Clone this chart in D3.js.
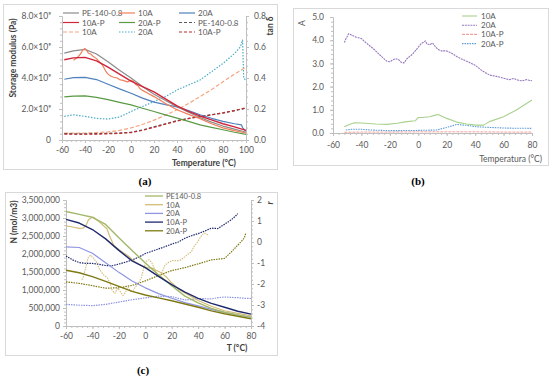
<!DOCTYPE html>
<html>
<head>
<meta charset="utf-8">
<script src="https://cdn.jsdelivr.net/npm/d3@7"></script>
<style>
  body { margin: 0; background: #fff; }
  text { font-family: Lato, "Liberation Sans", sans-serif; }
</style>
</head>
<body>
<svg id="fig" width="550" height="378"></svg>
<script>
// ---------- panel (a): storage modulus (x10^9 Pa) and tan delta ----------
const tempA = [-58, -50, -40, -30, -20, -10, 0, 10, 20, 30, 40, 50, 60, 70, 80, 90, 100];
const modPE = [5.6, 5.75, 5.85, 5.55, 5.05, 4.5, 4.0, 3.45, 2.95, 2.55, 2.15, 1.8, 1.45, 1.15, 0.9, 0.7, 0.5];
const mod10AP = [5.18, 5.3, 5.33, 5.1, 4.7, 4.25, 3.8, 3.45, 3.1, 2.65, 2.2, 1.85, 1.55, 1.3, 1.05, 0.85, 0.62];
const mod20AP = [2.78, 2.83, 2.85, 2.75, 2.6, 2.43, 2.27, 2.05, 1.84, 1.62, 1.41, 1.2, 0.98, 0.82, 0.66, 0.5, 0.36];
const tempA10A = [-50, -47, -45, -43, -42, -40, -38, -37, -35, -33, -30, -27, -25, -22, -20, -17, -15, -12, -10, -7, -5, -3, 0, 2, 4, 6, 8, 10, 15, 20, 30, 40, 50, 60, 70, 80, 90, 100];
const mod10A = [5.15, 5.3, 5.45, 5.65, 5.8, 5.9, 5.72, 5.6, 5.55, 5.4, 5.25, 5.0, 4.85, 4.45, 4.25, 4.1, 4.05, 4.0, 3.9, 3.85, 3.8, 3.75, 3.85, 3.8, 3.6, 3.5, 3.3, 3.2, 3.0, 2.8, 2.35, 1.95, 1.65, 1.38, 1.05, 0.78, 0.6, 0.45];
const tempA20A = [-58, -50, -40, -30, -20, -10, 0, 10, 20, 30, 40, 50, 60, 70, 80, 90, 96, 97, 100];
const mod20A = [3.92, 4.02, 4.04, 3.9, 3.6, 3.3, 3.02, 2.7, 2.44, 2.28, 2.14, 1.9, 1.63, 1.4, 1.2, 1.05, 0.98, 0.8, 0.55];
const tanPE = [0.042, 0.04, 0.04, 0.041, 0.043, 0.045, 0.05, 0.065, 0.085, 0.105, 0.125, 0.14, 0.152, 0.163, 0.174, 0.19, 0.205];
const tan10AP = [0.038, 0.037, 0.037, 0.038, 0.04, 0.043, 0.048, 0.062, 0.082, 0.102, 0.122, 0.138, 0.15, 0.162, 0.175, 0.19, 0.208];
const tan10A = [0.045, 0.045, 0.045, 0.048, 0.052, 0.062, 0.078, 0.1, 0.128, 0.16, 0.195, 0.235, 0.28, 0.325, 0.376, 0.425, 0.47];
const tempATan20A = [-58, -50, -40, -30, -20, -10, 0, 10, 20, 30, 40, 50, 60, 70, 80, 90, 95, 97, 98, 100];
const tan20A = [0.152, 0.163, 0.152, 0.14, 0.135, 0.148, 0.184, 0.216, 0.248, 0.28, 0.323, 0.355, 0.387, 0.44, 0.494, 0.558, 0.6, 0.645, 0.4, 0.385];
const xTicksA = [-60, -40, -20, 0, 20, 40, 60, 80, 100];
const modTicksA = [0, 2, 4, 6, 8];
const tanTicksA = [0, 0.2, 0.4, 0.6, 0.8];
const legendA = ["PE-140-0.8", "10A", "20A", "10A-P", "20A-P", "PE-140-0.8", "10A", "20A", "10A-P"];

// ---------- panel (b): A ----------
const tempB20A = [-52, -51, -49, -47, -44, -40, -37, -34, -31, -28, -25, -22, -20, -18, -16, -14, -12, -10, -8, -6, -4, -2, 0, 2, 4, 5, 6, 8, 10, 12, 14, 16, 20, 24, 27, 30, 35, 40, 45, 50, 55, 60, 64, 67, 70, 73, 76, 78, 80];
const a20A = [3.9, 4.05, 4.28, 4.22, 4.14, 4.07, 3.9, 3.75, 3.6, 3.42, 3.25, 3.09, 3.07, 3.15, 3.2, 3.17, 3.05, 3.02, 3.2, 3.3, 3.4, 3.55, 3.7, 3.85, 3.92, 3.97, 3.85, 3.8, 3.88, 3.72, 3.6, 3.54, 3.54, 3.42, 3.3, 3.2, 3.07, 2.92, 2.68, 2.5, 2.44, 2.36, 2.3, 2.35, 2.28, 2.25, 2.3, 2.27, 2.25];
const tempB10A = [-52, -48, -45, -40, -30, -22, -15, -8, -2, 0, 3, 8, 12, 14, 20, 27, 34, 41, 46, 50, 60, 69, 80];
const a10A = [0.27, 0.38, 0.44, 0.43, 0.39, 0.37, 0.42, 0.49, 0.53, 0.67, 0.67, 0.7, 0.77, 0.8, 0.63, 0.47, 0.39, 0.34, 0.34, 0.49, 0.7, 0.99, 1.42];
const tempB20AP = [-51, -47, -40, -34, -20, -1, 13, 20, 27, 34, 41, 50, 62, 80];
const a20AP = [0.13, 0.16, 0.16, 0.13, 0.1, 0.11, 0.13, 0.24, 0.37, 0.33, 0.27, 0.24, 0.21, 0.2];
const tempB10AP = [-52, -40, -20, 0, 20, 40, 60, 80];
const a10AP = [0.03, 0.04, 0.04, 0.05, 0.05, 0.05, 0.04, 0.04];
const xTicksB = [-60, -40, -20, 0, 20, 40, 60, 80];
const yTicksB = [0, 1, 2, 3, 4, 5];
const legendB = ["10A", "20A", "10A-P", "20A-P"];

// ---------- panel (c): N (mol/m3) and r ----------
const tempC = [-60, -50, -40, -30, -20, -10, 0, 10, 20, 30, 40, 50, 60, 70, 80];
const nPE = [3180000, 3100000, 3020000, 2820000, 2450000, 2100000, 1750000, 1420000, 1120000, 830000, 640000, 490000, 380000, 310000, 240000];
const n10AP = [2960000, 2860000, 2680000, 2420000, 2100000, 1810000, 1620000, 1380000, 1150000, 940000, 770000, 630000, 520000, 410000, 330000];
const n20A = [2200000, 2180000, 2020000, 1760000, 1490000, 1250000, 1060000, 900000, 770000, 650000, 560000, 460000, 380000, 300000, 240000];
const n20AP = [1550000, 1480000, 1370000, 1240000, 1100000, 960000, 860000, 780000, 700000, 610000, 520000, 420000, 340000, 270000, 200000];
const tempC10A = [-60, -55, -50, -47, -45, -43, -41, -39, -37, -35, -32, -29, -27, -24, -22, -19, -16, -13, -10, -7, -4, -1, 1, 4, 6, 8, 11, 14, 16, 20, 25, 30, 40, 50, 60, 70, 80];
const n10A = [2780000, 2750000, 2710000, 2720000, 2780000, 2950000, 3000000, 3020000, 2950000, 2900000, 2800000, 2700000, 2500000, 2250000, 2180000, 2100000, 2020000, 1950000, 1850000, 1760000, 1700000, 1650000, 1620000, 1610000, 1600000, 1550000, 1500000, 1420000, 1360000, 1200000, 1030000, 920000, 710000, 550000, 420000, 350000, 280000];
const tempCR10AP = [-60, -55, -50, -45, -40, -35, -30, -25, -20, -15, -10, -5, 0, 5, 10, 15, 20, 25, 30, 35, 40, 45, 50, 55, 60, 65, 68, 70];
const r10AP = [-0.67, -0.85, -0.98, -1.02, -1.02, -1.06, -1.12, -1.13, -1.05, -0.96, -0.86, -0.72, -0.55, -0.44, -0.33, -0.22, -0.1, 0.0, 0.18, 0.3, 0.4, 0.52, 0.66, 0.64, 0.85, 1.05, 1.22, 1.35];
const tempCR10A = [-48, -47, -45, -43, -41, -39, -37, -35, -33, -31, -29, -27, -25, -23, -21, -19, -17, -15, -13, -11, -9, -7, -5, -3, -1, 1, 3, 5, 7, 9, 11, 13, 15, 18, 21, 24, 27, 30, 33, 35, 37, 39, 41, 43, 45, 47, 48];
const r10A = [-1.8, -1.7, -1.2, -0.7, -0.63, -0.8, -0.95, -1.25, -1.45, -1.6, -1.68, -1.9, -2.3, -2.45, -2.2, -2.35, -2.55, -2.4, -2.15, -2.35, -2.3, -2.1, -1.95, -1.7, -1.2, -0.9, -0.85, -1.0, -1.3, -1.55, -1.65, -1.4, -1.1, -0.95, -0.88, -0.9, -0.85, -0.7, -0.55, -0.45, -0.2, -0.05, 0.15, 0.35, 0.42, 0.35, 0.3];
const tempCR20AP = [-60, -50, -40, -30, -20, -10, 0, 10, 20, 30, 40, 45, 50, 55, 60, 65, 70, 73, 75, 76];
const r20AP = [-1.9, -1.97, -2.08, -2.2, -2.18, -2.07, -1.85, -1.6, -1.36, -1.22, -1.04, -0.95, -0.85, -0.82, -0.78, -0.48, -0.15, 0.05, 0.2, 0.42];
const tempCR20A = [-60, -50, -40, -30, -20, -10, 0, 10, 20, 30, 35, 40, 50, 55, 60, 65, 70, 75, 80];
const r20A = [-2.97, -3.01, -3.03, -2.97, -2.86, -2.75, -2.66, -2.58, -2.6, -2.76, -2.74, -2.69, -2.71, -2.65, -2.62, -2.64, -2.65, -2.68, -2.69];
const xTicksC = [-60, -40, -20, 0, 20, 40, 60, 80];
const nTicksC = [0, 500000, 1000000, 1500000, 2000000, 2500000, 3000000, 3500000];
const rTicksC = [-4, -3, -2, -1, 0, 1, 2];
const legendC = ["PE140-0.8", "10A", "20A", "10A-P", "20A-P"];

const svg = d3.select("#fig");
svg.append("rect").attr("width", 550).attr("height", 378).attr("fill", "#fff");

// Excel-style labels use a plain hyphen for negatives
function fmt(spec) {
    const f = d3.format(spec);
    return v => f(v).replace("−", "-");
}

function frame(x, y, w, h) {
    svg.append("rect").attr("x", x + 0.5).attr("y", y + 0.5).attr("width", w).attr("height", h)
        .attr("fill", "none").attr("stroke", "#d9d9d9");
}

function styleAxis(g, size) {
    g.select(".domain").attr("stroke", "#bfbfbf");
    g.selectAll(".tick line").attr("stroke", "#bfbfbf");
    g.selectAll(".tick text").attr("fill", "#595959").style("font-size", size + "px");
}

// small minor marks along an axis
function minor(axisFn, scale, values, transform) {
    const g = svg.append("g").attr("transform", transform)
        .call(axisFn(scale).tickValues(values).tickSize(2).tickFormat(""));
    g.select(".domain").remove();
    g.selectAll(".tick line").attr("stroke", "#bfbfbf");
}

function addLine(x, y, t, v, color, dash, width) {
    svg.append("path")
        .datum(d3.zip(t, v))
        .attr("fill", "none")
        .attr("stroke", color)
        .attr("stroke-width", width || 1.2)
        .attr("stroke-dasharray", dash || null)
        .attr("stroke-linejoin", "round")
        .attr("d", d3.line().x(d => x(d[0])).y(d => y(d[1])));
}

function caption(txt, x, y) {
    svg.append("text").attr("x", x).attr("y", y).attr("text-anchor", "middle")
        .style("font-family", "'Liberation Serif', 'DejaVu Serif', serif")
        .style("font-weight", "bold").style("font-size", "11px").text(txt);
}

// ================= (a) =================
frame(3, 4, 274, 165);
const xa = d3.scaleLinear().domain([-60, 100]).range([62, 246]);
const ya = d3.scaleLinear().domain([0, 8]).range([140, 16]);
const ya2 = d3.scaleLinear().domain([0, 0.8]).range([140, 16]);

minor(d3.axisBottom, xa, d3.range(-60, 101, 4), "translate(0,140)");
minor(d3.axisLeft, ya, d3.range(0, 8.01, 0.4), "translate(62,0)");
minor(d3.axisRight, ya2, d3.range(0, 0.801, 0.04), "translate(246,0)");

styleAxis(svg.append("g").attr("transform", "translate(0,140)")
    .call(d3.axisBottom(xa).tickValues(xTicksA).tickSize(3).tickPadding(4).tickFormat(fmt("d"))), 8.5);
styleAxis(svg.append("g").attr("transform", "translate(62,0)")
    .call(d3.axisLeft(ya).tickValues(modTicksA).tickSize(3).tickPadding(8)
        .tickFormat(v => v === 0 ? "0" : v.toFixed(1) + "×10⁹")), 8.5);
styleAxis(svg.append("g").attr("transform", "translate(246,0)")
    .call(d3.axisRight(ya2).tickValues(tanTicksA).tickSize(3).tickPadding(5)
        .tickFormat(fmt(".1f"))), 8.5);

svg.append("text").attr("transform", "translate(16,58) rotate(-90)").attr("text-anchor", "middle")
    .style("font-size", "8.5px").style("font-weight", "bold").attr("fill", "#404040").text("Storage modulus (Pa)");
svg.append("text").attr("transform", "translate(273,26) rotate(-90)").attr("text-anchor", "middle")
    .style("font-size", "8.5px").style("font-weight", "bold").attr("fill", "#404040").text("tan δ");
svg.append("text").attr("x", 204).attr("y", 166).attr("text-anchor", "middle")
    .style("font-size", "8.5px").style("font-weight", "bold").attr("fill", "#404040").text("Temperature (°C)");

const stylesA = [
    ["#8c8c8c", null], ["#f27f5b", null], ["#4f81bd", null],
    ["#d0253a", null], ["#5a9a44", null], ["#595959", "3,2"],
    ["#f4a582", "4,2"], ["#4bacc6", "1.5,1.5"], ["#c0282d", "3,2"]
];
addLine(xa, ya2, tempATan20A, tan20A, stylesA[7][0], stylesA[7][1], 1.2);
addLine(xa, ya2, tempA, tan10A, stylesA[6][0], stylesA[6][1], 1.2);
addLine(xa, ya2, tempA, tanPE, stylesA[5][0], stylesA[5][1], 1.2);
addLine(xa, ya2, tempA, tan10AP, stylesA[8][0], stylesA[8][1], 1.2);
addLine(xa, ya, tempA, mod20AP, stylesA[4][0], null, 1.2);
addLine(xa, ya, tempA20A, mod20A, stylesA[2][0], null, 1.2);
addLine(xa, ya, tempA, modPE, stylesA[0][0], null, 1.2);
addLine(xa, ya, tempA10A, mod10A, stylesA[1][0], null, 1.2);
addLine(xa, ya, tempA, mod10AP, stylesA[3][0], null, 1.4);

const colXA = [63, 119, 179];
legendA.forEach((name, i) => {
    const lx = colXA[i % 3], ly = 13 + Math.floor(i / 3) * 9.5;
    svg.append("line").attr("x1", lx).attr("x2", lx + 16).attr("y1", ly).attr("y2", ly)
        .attr("stroke", stylesA[i][0]).attr("stroke-width", 1.2).attr("stroke-dasharray", stylesA[i][1]);
    svg.append("text").attr("x", lx + 19).attr("y", ly + 3).style("font-size", "8px")
        .attr("fill", "#595959").text(name);
});
caption("(a)", 145, 185);

// ================= (b) =================
frame(293, 8, 255, 157);
const xb = d3.scaleLinear().domain([-60, 80]).range([333, 532]);
const yb = d3.scaleLinear().domain([0, 5]).range([133, 17]);

minor(d3.axisBottom, xb, d3.range(-60, 81, 4), "translate(0,133)");
minor(d3.axisLeft, yb, d3.range(0, 5.01, 0.2), "translate(333,0)");
styleAxis(svg.append("g").attr("transform", "translate(0,133)")
    .call(d3.axisBottom(xb).tickValues(xTicksB).tickSize(3).tickPadding(6).tickFormat(fmt("d"))), 8.5);
styleAxis(svg.append("g").attr("transform", "translate(333,0)")
    .call(d3.axisLeft(yb).tickValues(yTicksB).tickSize(3).tickPadding(6).tickFormat(fmt(".1f"))), 8.5);

svg.append("text").attr("transform", "translate(305,23) rotate(-90)").attr("text-anchor", "middle")
    .style("font-size", "8.5px").attr("fill", "#595959").text("A");
svg.append("text").attr("x", 542).attr("y", 162).attr("text-anchor", "end")
    .style("font-size", "8.5px").attr("fill", "#595959").text("Temperatura (°C)");

const stylesB = [["#a9d18e", null], ["#9678c0", "2,0.8"], ["#f4a09c", "3,1"], ["#5b9bd5", "1.5,1"]];
addLine(xb, yb, tempB10AP, a10AP, stylesB[2][0], stylesB[2][1], 1);
addLine(xb, yb, tempB20AP, a20AP, stylesB[3][0], stylesB[3][1], 1.1);
addLine(xb, yb, tempB10A, a10A, stylesB[0][0], null, 1.1);
addLine(xb, yb, tempB20A, a20A, stylesB[1][0], stylesB[1][1], 1.1);

legendB.forEach((name, i) => {
    const ly = 16 + i * 9.2;
    svg.append("line").attr("x1", 462).attr("x2", 477).attr("y1", ly).attr("y2", ly)
        .attr("stroke", stylesB[i][0]).attr("stroke-width", 1.1).attr("stroke-dasharray", stylesB[i][1]);
    svg.append("text").attr("x", 481).attr("y", ly + 3).style("font-size", "8px")
        .attr("fill", "#595959").text(name);
});
caption("(b)", 418, 185);

// ================= (c) =================
frame(5, 192, 272, 163);
const xc = d3.scaleLinear().domain([-60, 80]).range([66, 251]);
const yc = d3.scaleLinear().domain([0, 3500000]).range([326, 200]);
const rc = d3.scaleLinear().domain([-4, 2]).range([326, 200]);

minor(d3.axisBottom, xc, d3.range(-60, 81, 4), "translate(0,326)");
minor(d3.axisLeft, yc, d3.range(0, 3500001, 100000), "translate(66,0)");
minor(d3.axisRight, rc, d3.range(-4, 2.01, 0.2), "translate(251,0)");
styleAxis(svg.append("g").attr("transform", "translate(0,326)")
    .call(d3.axisBottom(xc).tickValues(xTicksC).tickSize(3).tickPadding(4).tickFormat(fmt("d"))), 8.5);
styleAxis(svg.append("g").attr("transform", "translate(66,0)")
    .call(d3.axisLeft(yc).tickValues(nTicksC).tickSize(3).tickPadding(3).tickFormat(fmt(","))), 8.5);
styleAxis(svg.append("g").attr("transform", "translate(251,0)")
    .call(d3.axisRight(rc).tickValues(rTicksC).tickSize(3).tickPadding(3).tickFormat(fmt("d"))), 8.5);

svg.append("text").attr("transform", "translate(17,222) rotate(-90)").attr("text-anchor", "middle")
    .style("font-size", "8.5px").style("font-weight", "bold").attr("fill", "#404040").text("N (mol/m3)");
svg.append("text").attr("transform", "translate(273,203) rotate(-90)").attr("text-anchor", "middle")
    .style("font-size", "8.5px").style("font-weight", "bold").style("font-style", "italic")
    .attr("fill", "#404040").text("r");
svg.append("text").attr("x", 237).attr("y", 351).attr("text-anchor", "middle")
    .style("font-size", "8.5px").style("font-weight", "bold").attr("fill", "#404040").text("T (°C)");

const colorsC = ["#a2b868", "#d3bd78", "#8f95e2", "#1f2a6e", "#7f7914"];
addLine(xc, rc, tempCR20A, r20A, colorsC[2], "1.5,1", 1.2);
addLine(xc, rc, tempCR20AP, r20AP, colorsC[4], "1.5,1", 1.2);
addLine(xc, rc, tempCR10A, r10A, colorsC[1], "1.5,1", 1.1);
addLine(xc, rc, tempCR10AP, r10AP, colorsC[3], "1.5,1", 1.2);
addLine(xc, yc, tempC, n20A, colorsC[2], null, 1.2);
addLine(xc, yc, tempC, n20AP, colorsC[4], null, 1.4);
addLine(xc, yc, tempC10A, n10A, colorsC[1], null, 1.2);
addLine(xc, yc, tempC, nPE, colorsC[0], null, 1.4);
addLine(xc, yc, tempC, n10AP, colorsC[3], null, 1.4);

legendC.forEach((name, i) => {
    const ly = 196 + i * 8.7;
    svg.append("line").attr("x1", 145).attr("x2", 163).attr("y1", ly).attr("y2", ly)
        .attr("stroke", colorsC[i]).attr("stroke-width", 1.3);
    svg.append("text").attr("x", 166).attr("y", ly + 3).style("font-size", "7.5px")
        .attr("fill", "#595959").text(name);
});
caption("(c)", 143, 374);
</script>
</body>
</html>
